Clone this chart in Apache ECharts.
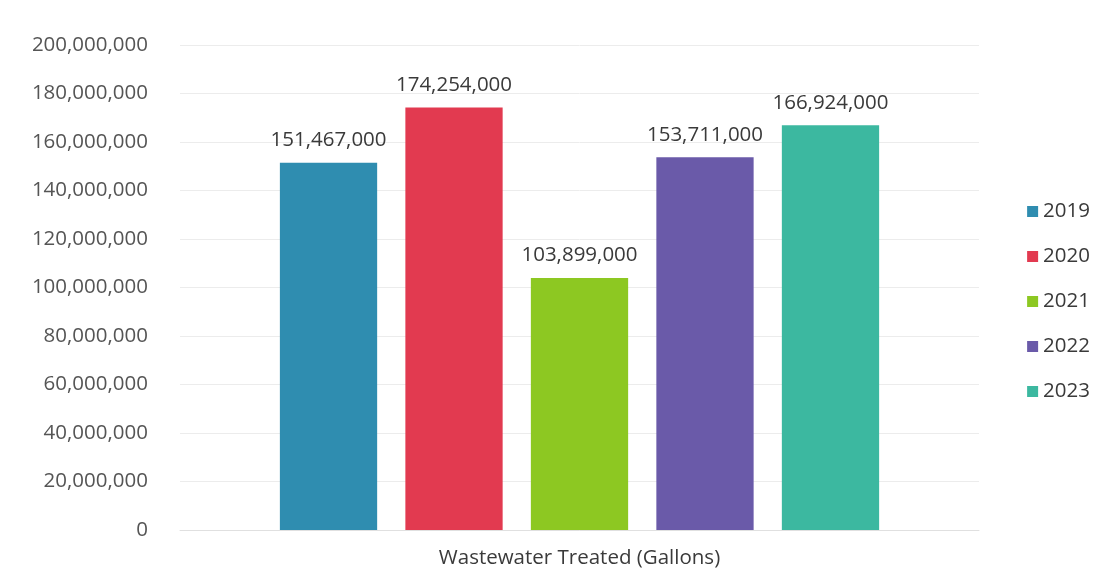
<!DOCTYPE html>
<html>
<head>
<meta charset="utf-8">
<script src="https://cdn.jsdelivr.net/npm/echarts@6/dist/echarts.min.js"></script>
<style>
  html, body { margin: 0; padding: 0; background: #fff; }
  #chart { width: 1115px; height: 586px; }
</style>
</head>
<body>
<div id="chart"></div>
<script>
var categories = ['Wastewater Treated (Gallons)'];
var years = ['2019', '2020', '2021', '2022', '2023'];
var gallons = [151467000, 174254000, 103899000, 153711000, 166924000];
var colors = ['#2f8db0', '#e23a50', '#8dc822', '#6a5aa9', '#3cb8a0'];
var yTicks = { min: 0, max: 200000000, interval: 20000000 };

var fmt = function (v) { return Number(v).toLocaleString('en-US'); };
var font = '"Open Sans", "Liberation Sans", sans-serif';

var series = years.map(function (y, i) {
  return {
    name: y,
    type: 'bar',
    data: [gallons[i]],
    barGap: '29%',
    barCategoryGap: '25%',
    itemStyle: { color: colors[i] },
    label: {
      show: true,
      position: 'top',
      distance: 12,
      color: '#3a3a3a',
      fontSize: 20.5,
      fontFamily: font,
      formatter: function (p) { return fmt(p.value); }
    }
  };
});

var chart = echarts.init(document.getElementById('chart'));
chart.setOption({
  animation: false,
  color: colors,
  grid: { left: 180, right: 136, top: 45, bottom: 56 },
  legend: {
    orient: 'vertical',
    right: 20,
    top: 196,
    itemGap: 24,
    itemWidth: 11,
    itemHeight: 11,
    icon: 'rect',
    textStyle: { color: '#3a3a3a', fontSize: 20.5, fontFamily: font },
    data: years
  },
  xAxis: {
    type: 'category',
    data: categories,
    axisLine: { lineStyle: { color: '#e0e0e0' } },
    axisTick: { show: false },
    axisLabel: { color: '#3a3a3a', fontSize: 20.5, fontFamily: font, margin: 18 }
  },
  yAxis: {
    type: 'value',
    min: yTicks.min,
    max: yTicks.max,
    interval: yTicks.interval,
    axisLine: { show: false },
    axisTick: { show: false },
    splitLine: { lineStyle: { color: '#ececec' } },
    axisLabel: {
      color: '#555',
      fontSize: 20.5,
      fontFamily: font,
      margin: 32,
      formatter: function (v) { return fmt(v); }
    }
  },
  series: series
});
</script>
</body>
</html>
